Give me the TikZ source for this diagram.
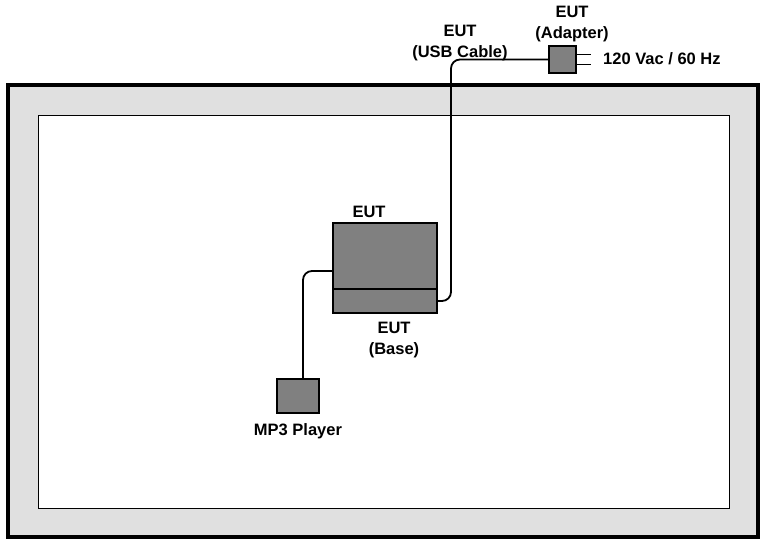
\documentclass[tikz,border=0pt]{standalone}
\usepackage{fontspec}
\setmainfont{Liberation Sans}
\usepackage{tikz}
\usepackage{xcolor}

\begin{document}
\begin{tikzpicture}[
    x=1pt, y=-1pt,
    device/.style={
        draw,
        line width=1.8pt,
        fill=black!50,
        inner sep=0pt
    },
    caption/.style={
        inner sep=0pt,
        align=center,
        font=\fontsize{16.5}{21}\selectfont\bfseries
    },
    cable/.style={draw, line width=1.8pt, rounded corners=9pt},
    prong/.style={draw, line width=1.8pt}
]
    \useasboundingbox (0,0) rectangle (762,541);

    % room and table
    \draw[line width=4pt, fill=black!12] (8,85) rectangle (758,537);
    \draw[line width=0.9pt, fill=white] (38,115) rectangle (729,508);

    \node[device, minimum width=104pt, minimum height=66pt] (eut) at (385,256) {};
    \node[device, minimum width=104pt, minimum height=24pt] (base) at (385,301) {};
    \node[device, minimum width=42pt, minimum height=34pt] (mp3) at (298,396) {};
    \node[device, minimum width=27pt, minimum height=27pt] (adapter) at (562.5,59.5) {};

    \node[caption] (euttext) at (369,212) {EUT};
    \node[caption] (basetext) at (394,340) {EUT\\(Base)};
    \node[caption] (mp3text) at (298,431) {MP3 Player};
    \node[caption] (usbtext) at (460,43) {EUT\\(USB Cable)};
    \node[caption] (adaptertext) at (572,24) {EUT\\(Adapter)};
    \node[caption, anchor=west] (mains) at (603,59) {120 Vac / 60 Hz};

    \coordinate (usbx) at (451,0);
    \coordinate (mp3out) at ([yshift=-15pt]eut.west);

    \draw[cable] (base.east) -- (base.east -| usbx) |- (adapter.west);
    \draw[cable] (mp3out) -| ([xshift=5pt]mp3.north);
    \draw[prong] ([yshift=5pt]adapter.east) -- ++(14,0);
    \draw[prong] ([yshift=-5pt]adapter.east) -- ++(14,0);
\end{tikzpicture}
\end{document}
